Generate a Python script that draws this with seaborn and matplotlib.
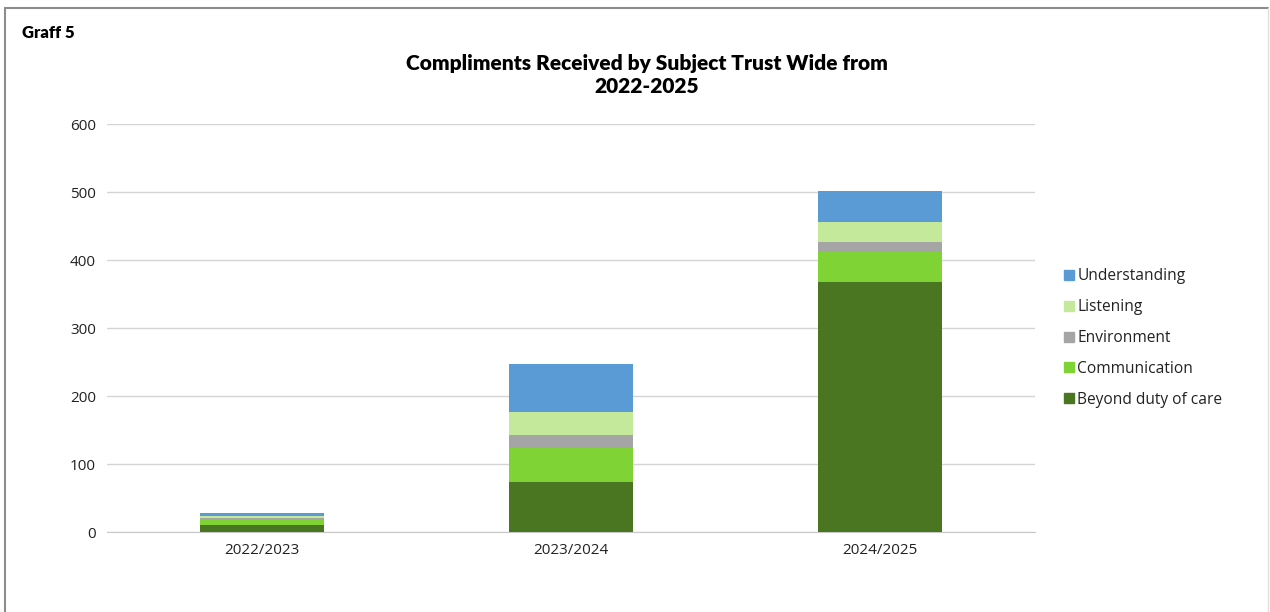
import matplotlib
matplotlib.use("Agg")
import matplotlib.pyplot as plt
import matplotlib.lines as mlines
import numpy as np
import pandas as pd
import seaborn as sns

# values
years = ["2022/2023", "2023/2024", "2024/2025"]
subjects = ["Beyond duty of care", "Communication", "Environment", "Listening", "Understanding"]
beyond_duty = [11, 74, 367]
communication = [7, 50, 45]
environment = [2, 18, 14]
listening = [4, 34, 30]
understanding = [4, 71, 46]
colors = ["#4A7521", "#80D335", "#A5A5A5", "#C5E99B", "#5B9BD5"]

values = [beyond_duty, communication, environment, listening, understanding]
df = pd.DataFrame(
    [(y, s, v[i]) for s, v in zip(subjects, values) for i, y in enumerate(years)],
    columns=["year", "subject", "count"],
)

sns.set_style("white")
plt.rcParams["font.family"] = ["Open Sans", "DejaVu Sans"]

fig = plt.figure(figsize=(12.7, 6.12), dpi=100)
ax = fig.add_axes([107 / 1270, 1 - 532 / 612, 928 / 1270, 408 / 612])

# stack the subjects one on top of another
bottom = np.zeros(len(years))
for subj, col in zip(subjects, colors):
    sub = df[df["subject"] == subj].set_index("year").loc[years].reset_index()
    sns.barplot(
        data=sub, x="year", y="count", order=years, color=col,
        width=0.4, bottom=bottom, ax=ax, errorbar=None,
        saturation=1, linewidth=0, zorder=3,
    )
    bottom = bottom + sub["count"].to_numpy()

ax.set_ylim(0, 600)
ax.set_yticks(range(0, 601, 100))
ax.set_xlim(-0.5, 2.5)
ax.yaxis.grid(True, color="#D4D4D4", linewidth=1, zorder=0)
ax.set_axisbelow(True)
for side in ["top", "right", "left"]:
    ax.spines[side].set_visible(False)
ax.spines["bottom"].set_color("#C8C8C8")
ax.tick_params(axis="both", length=0, labelsize=11, colors="#222222", pad=8)
ax.set_xlabel("")
ax.set_ylabel("")

handles = [
    mlines.Line2D([], [], marker="s", linestyle="none", markersize=7,
                  markerfacecolor=c, markeredgecolor=c, label=s)
    for s, c in zip(subjects, colors)
][::-1]
leg = fig.legend(handles=handles, loc="center left", bbox_to_anchor=(1047 / 1270, 1 - 338 / 612),
                 frameon=False, fontsize=11.2, handletextpad=0.05, labelspacing=0.95,
                 handlelength=1.0)
for t in leg.get_texts():
    t.set_color("#222222")

fig.text(647 / 1270, 1 - 75 / 612, "Compliments Received by Subject Trust Wide from\n2022-2025",
         ha="center", va="center", fontsize=15, fontweight="heavy", color="black",
         family=["Lato", "DejaVu Sans"], linespacing=1.25)
fig.text(22 / 1270, 1 - 33 / 612, "Graff 5", ha="left", va="center", color="black",
         fontsize=12, fontweight="heavy", family=["Lato", "DejaVu Sans"])

# frame around the figure
fig.add_artist(mlines.Line2D([5 / 1270, 1268 / 1270], [1 - 8 / 612, 1 - 8 / 612],
                             transform=fig.transFigure, color="#8C8C8C", linewidth=1.5))
fig.add_artist(mlines.Line2D([5 / 1270, 5 / 1270], [0, 1 - 8 / 612],
                             transform=fig.transFigure, color="#8C8C8C", linewidth=1.5))
fig.add_artist(mlines.Line2D([1268 / 1270, 1268 / 1270], [0, 1 - 8 / 612],
                             transform=fig.transFigure, color="#E0E0E0", linewidth=1))

fig.savefig("out.png", dpi=100)
